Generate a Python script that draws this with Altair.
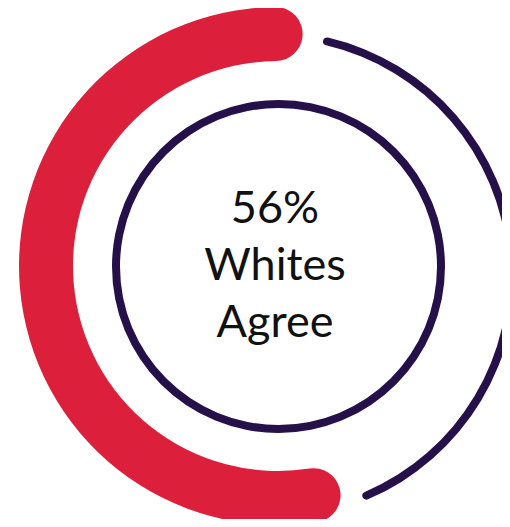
import math
import altair as alt
import pandas as pd

# ---- data ----
segments = ["Agree", "Other"]
shares = [56, 44]
labels = ["56%", "Whites", "Agree"]
rows = [0, 1, 2]

RED = "#DC1F3A"
NAVY = "#25104A"
OFF = 8  # page margin

red_df = pd.DataFrame({"segment": [segments[0]], "start": [0], "end": [shares[0]]})
navy_df = pd.DataFrame({"segment": [segments[1]], "start": [shares[0]],
                        "end": [shares[0] + shares[1]]})
ring_df = pd.DataFrame({"start": [0], "end": [100]})
text_df = pd.DataFrame({"line": labels, "row": rows})

red_start = math.radians(164.5)

red = alt.Chart(red_df).mark_arc(
    innerRadius=205, outerRadius=259, cornerRadius=27, color=RED
).encode(
    theta=alt.Theta("start:Q", scale=alt.Scale(domain=[0, 100],
                                               range=[red_start, red_start + 2 * math.pi])),
    theta2="end:Q",
    x=alt.value(278 - OFF),
    y=alt.value(266 - OFF),
)

navy = alt.Chart(navy_df).mark_arc(
    innerRadius=236, outerRadius=244, cornerRadius=4, color=NAVY
).encode(
    theta=alt.Theta("start:Q", scale=alt.Scale(domain=[56, 100],
                                               range=[math.radians(12.3), math.radians(157.8)])),
    theta2="end:Q",
    x=alt.value(272 - OFF),
    y=alt.value(275 - OFF),
)

ring = alt.Chart(ring_df).mark_arc(
    innerRadius=158.5, outerRadius=166.5, color=NAVY
).encode(
    theta=alt.Theta("start:Q", scale=alt.Scale(domain=[0, 100], range=[0, 2 * math.pi])),
    theta2="end:Q",
    x=alt.value(278.5 - OFF),
    y=alt.value(266.5 - OFF),
)

text = alt.Chart(text_df).mark_text(
    font="Lato", fontSize=45, color="#111111", baseline="alphabetic", align="center"
).encode(
    text="line:N",
    y=alt.Y("row:O", axis=None,
            scale=alt.Scale(type="point", padding=0, range=[223 - OFF, 337 - OFF])),
    x=alt.value(275 - OFF),
)

chart = alt.layer(red, navy, ring, text).resolve_scale(
    theta="independent"
).properties(
    width=494, height=511, padding=0, autosize=alt.AutoSizeParams(type="none")
).configure_view(stroke=None)

chart.save("out.html", embed_options={"renderer": "svg", "actions": False})
